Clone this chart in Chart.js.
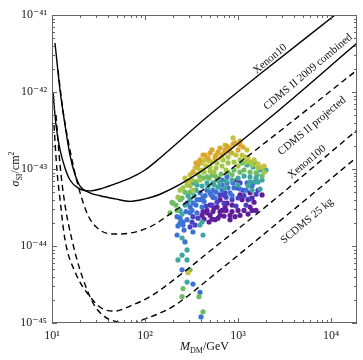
<!DOCTYPE html>
<html><head><meta charset="utf-8">
<script src="https://cdn.jsdelivr.net/npm/chart.js@4"></script>
<style>html,body{margin:0;padding:0;background:#fff}</style>
</head><body><canvas id="c" width="363" height="360" style="width:363px;height:360px;display:block"></canvas>
<script>
// ---- data (mass in GeV, cross-section in units of 1e-44 cm^2) ----
const SIGMA_UNIT = 1e-44;
const xTickValues = [10, 100, 1000, 10000];
const xTickLabels = ['10¹', '10²', '10³', '10⁴'];
const yTickValues = [1e-45, 1e-44, 1e-43, 1e-42, 1e-41];
const yTickLabels = ['10⁻⁴⁵', '10⁻⁴⁴', '10⁻⁴³', '10⁻⁴²', '10⁻⁴¹'];

const xenon10Mass  = [10.25, 11.04, 12.2, 13.8, 15.6, 19.0, 25.6, 32.8, 47.6, 69.0, 100, 145, 464, 1724, 11040];
const xenon10Sigma = [100, 37.3, 17.7, 10.3, 7.2, 5.7, 5.2, 5.5, 6.4, 7.6, 9.7, 13.9, 47.3, 171, 1000];

const cdmsCombMass  = [10.77, 12.2, 13.8, 15.6, 17.7, 20.0, 25.6, 32.8, 47.6, 69.0, 100, 145, 390, 2050, 19040];
const cdmsCombSigma = [433, 106, 37.3, 15.2, 8.4, 6.0, 4.9, 4.5, 4.1, 3.8, 4.1, 4.7, 9.1, 43.3, 433];

const cdmsProjMass  = [11.6, 13.1, 15.6, 19.0, 24.4, 32.8, 47.6, 69.0, 113, 186, 390, 761, 2830, 19040];
const cdmsProjSigma = [193, 58.4, 17.7, 6.2, 2.5, 1.61, 1.43, 1.47, 1.77, 2.6, 5.0, 9.1, 31.2, 193];

const xenon100Mass  = [10.5, 11.3, 12.2, 13.8, 17.7, 25.6, 35.4, 47.6, 69.0, 113, 238, 500, 2210, 19040];
const xenon100Sigma = [37.3, 9.7, 4.0, 1.20, 0.46, 0.22, 0.152, 0.143, 0.166, 0.22, 0.42, 0.86, 3.6, 32.1];

const scdmsMass  = [11.04, 12.2, 13.8, 16.4, 20.0, 27.6, 37.1, 51.3, 69.0, 100, 172, 244, 500, 2210, 19040];
const scdmsSigma = [50.2, 11.3, 3.4, 1.20, 0.49, 0.182, 0.120, 0.103, 0.097, 0.113, 0.148, 0.193, 0.384, 1.66, 14.3];

// scan points, grouped by colour
const goldMass   = [884, 1050, 725, 609, 500, 420, 781, 566, 371, 328, 673, 442, 525, 640, 761, 928, 1000, 1132, 820, 580, 476, 390, 707, 1050, 353];
const goldSigma  = [21.1, 20.5, 17.7, 16.6, 16.1, 15.2, 18.7, 14.3, 11.3, 9.1, 15.2, 15.2, 17.7, 18.7, 19.9, 21.8, 17.7, 19.3, 16.6, 15.2, 13.9, 13.1, 16.1, 23.1, 12.0];
const yellowMass  = [362, 305, 283, 884, 442, 525, 1812, 725, 390, 290, 345, 410, 488, 566, 656, 952, 1104, 1281, 1486, 1641, 1904, 305, 269, 453, 820, 1250];
const yellowSigma = [10.6, 7.2, 6.8, 25.3, 13.1, 12.3, 10.6, 20.5, 9.7, 0.45, 10.3, 12.0, 12.7, 13.1, 13.9, 15.2, 15.2, 13.9, 13.1, 11.6, 10.9, 8.4, 7.6, 10.9, 18.7, 17.7];
const limeMass  = [238, 226, 500, 595, 690, 781, 862, 420, 1189, 1346, 328, 283, 320, 371, 431, 500, 580, 673, 781, 906, 1050, 1219, 1414, 1641, 1904, 390, 552, 743, 1000, 256, 305];
const limeSigma = [5.3, 4.3, 10.6, 12.0, 13.1, 14.3, 16.1, 9.7, 14.3, 12.3, 5.3, 6.2, 7.2, 8.6, 9.1, 9.4, 10.3, 10.9, 12.0, 12.3, 13.1, 12.3, 11.3, 10.3, 9.1, 7.2, 9.1, 9.7, 10.9, 5.7, 6.0];
const greenMass  = [200, 221, 250, 390, 464, 525, 1104, 1050, 186, 195, 256, 250, 380, 420, 1523, 305, 269, 305, 353, 420, 488, 566, 656, 781, 906, 1160, 1346, 1561, 1812, 862, 609, 238, 215];
const greenSigma = [3.6, 2.9, 4.2, 7.9, 7.9, 8.4, 12.0, 9.1, 2.7, 3.7, 0.28, 0.22, 0.22, 0.14, 12.0, 0.49, 5.0, 5.0, 6.8, 7.6, 7.6, 8.1, 8.6, 9.1, 9.7, 9.7, 9.1, 8.9, 8.1, 8.4, 7.6, 4.0, 3.4];
const tealMass  = [1250, 1450, 1724, 2000, 1601, 1346, 1523, 1724, 1414, 595, 538, 464, 609, 1641, 1951, 410, 390, 420, 250, 283, 250, 226, 283, 283, 328, 362, 353, 410, 476, 552, 640, 743, 862, 1000, 1160, 1346, 1561, 1812, 1281, 1000, 725, 290, 336, 305, 269, 238, 250];
const tealSigma = [11.3, 10.6, 9.7, 9.7, 8.4, 6.8, 6.8, 5.5, 5.3, 7.2, 6.6, 6.6, 5.8, 6.8, 9.7, 2.05, 1.87, 1.39, 1.27, 0.89, 0.76, 0.66, 0.66, 0.34, 6.6, 6.2, 5.3, 6.0, 5.8, 6.2, 6.6, 7.0, 7.2, 7.6, 8.1, 7.9, 7.6, 7.2, 6.0, 6.2, 5.7, 4.5, 4.5, 4.0, 3.4, 2.9, 2.6];
const blueMass  = [464, 420, 538, 673, 761, 390, 410, 362, 673, 761, 884, 283, 305, 328, 221, 238, 256, 305, 238, 256, 328, 221, 269, 250, 328, 390, 400, 500, 820, 1250, 1450, 390, 442, 513, 580, 673, 781, 906, 1050, 1219, 1414, 353, 320, 276, 362, 431, 566, 862, 283, 263, 226];
const blueSigma = [5.3, 4.3, 5.3, 7.2, 7.9, 4.0, 3.2, 4.0, 6.2, 6.6, 6.6, 3.6, 3.2, 3.6, 2.4, 2.3, 2.05, 2.7, 1.99, 1.87, 1.52, 1.39, 1.13, 0.49, 0.32, 0.25, 0.12, 4.9, 4.9, 6.6, 6.6, 4.9, 4.5, 4.6, 5.0, 5.3, 5.7, 5.7, 5.5, 5.3, 6.0, 3.4, 2.9, 2.8, 2.7, 3.8, 4.2, 4.5, 2.2, 1.61, 1.82];
const indigoMass  = [725, 595, 538, 690, 975, 1050, 1132, 320, 305, 328, 1641, 640, 743, 862, 1000, 1160, 1346, 1561, 453, 525, 707, 952, 1219, 371, 345];
const indigoSigma = [4.9, 3.7, 4.3, 4.6, 5.7, 6.6, 5.3, 2.05, 1.77, 2.4, 5.3, 4.6, 4.3, 4.0, 4.2, 4.5, 4.1, 4.7, 3.3, 3.4, 3.6, 3.3, 3.4, 2.3, 1.87];
const purpleMass  = [640, 761, 595, 538, 464, 500, 1104, 1346, 1414, 928, 820, 420, 464, 410, 500, 1346, 1281, 1414, 975, 673, 725, 862, 1050, 566, 640, 552, 640, 743, 862, 1000, 1160, 1281, 820, 609, 525, 707, 1050, 1486, 1561, 488, 431, 1812];
const purpleSigma = [4.0, 3.6, 3.2, 2.8, 2.9, 2.5, 4.0, 3.2, 2.9, 2.4, 2.5, 2.8, 2.7, 2.5, 3.4, 4.9, 4.0, 4.2, 7.2, 2.9, 3.2, 3.4, 4.6, 2.2, 2.5, 3.1, 2.8, 2.9, 2.8, 2.9, 2.9, 2.6, 2.2, 2.3, 2.24, 2.45, 2.5, 3.7, 2.9, 2.05, 2.24, 4.6];

// ---- build ----
const pts = (m, s) => m.map((v, i) => ({x: v, y: s[i] * SIGMA_UNIT}));
const lineDs = (m, s, dashed, label) => ({
  label, data: pts(m, s), showLine: true, pointRadius: 0, borderColor: '#000',
  borderWidth: 1.4, borderDash: dashed ? [6, 4] : [], cubicInterpolationMode: 'monotone', order: 0, fill: false
});
const dotDs = (m, s, color) => ({
  data: pts(m, s), pointRadius: 2.6, pointHoverRadius: 2.6, backgroundColor: color, borderWidth: 0, showLine: false, order: 1
});

const SERIF = '"Liberation Serif", "DejaVu Serif", serif';

const curveLabels = [
  {text: 'Xenon10', x: 270, y: 59},
  {text: 'CDMS II 2009 combined', x: 308, y: 72},
  {text: 'CDMS II projected', x: 312, y: 126},
  {text: 'Xenon100', x: 307, y: 162},
  {text: 'SCDMS 25 kg', x: 307, y: 221}
];

const decor = {
  id: 'decor',
  afterDraw(chart) {
    const {ctx, chartArea: a, scales: {x, y}} = chart;
    ctx.save();
    ctx.strokeStyle = '#666'; ctx.lineWidth = 1;
    ctx.strokeRect(a.left + 0.5, a.top + 0.5, a.right - a.left - 1, a.bottom - a.top - 1);
    ctx.beginPath();
    for (let d = 1; d <= 4; d++) for (let k = 1; k <= 9; k++) {
      const v = k * Math.pow(10, d);
      if (v < x.min || v > x.max) continue;
      const p = Math.round(x.getPixelForValue(v)) + 0.5, L = k === 1 ? 5 : 3;
      ctx.moveTo(p, a.bottom); ctx.lineTo(p, a.bottom - L);
      ctx.moveTo(p, a.top); ctx.lineTo(p, a.top + L);
    }
    for (let d = -45; d <= -41; d++) for (let k = 1; k <= 9; k++) {
      const v = k * Math.pow(10, d);
      if (v < y.min * 0.999 || v > y.max * 1.001) continue;
      const p = Math.round(y.getPixelForValue(v)) + 0.5, L = k === 1 ? 5 : 3;
      ctx.moveTo(a.left, p); ctx.lineTo(a.left + L, p);
      ctx.moveTo(a.right, p); ctx.lineTo(a.right - L, p);
    }
    ctx.stroke();
    ctx.fillStyle = '#111'; ctx.font = '11px ' + SERIF;
    ctx.textAlign = 'center'; ctx.textBaseline = 'middle';
    curveLabels.forEach(l => {
      ctx.save(); ctx.translate(l.x, l.y); ctx.rotate(-40 * Math.PI / 180);
      ctx.fillText(l.text, 0, 0); ctx.restore();
    });
    const drawSub = (parts, cx, cy, rot) => {
      ctx.save(); ctx.translate(cx, cy); ctx.rotate(rot);
      let w = 0;
      parts.forEach(p => { ctx.font = p.f; w += ctx.measureText(p.t).width; });
      let xx = -w / 2;
      ctx.textAlign = 'left'; ctx.textBaseline = 'alphabetic';
      parts.forEach(p => { ctx.font = p.f; ctx.fillText(p.t, xx, 4 + (p.dy || 0)); xx += ctx.measureText(p.t).width; });
      ctx.restore();
    };
    drawSub([
      {t: 'σ', f: 'italic 12px ' + SERIF},
      {t: 'SI', f: '8px ' + SERIF, dy: 3},
      {t: '/cm', f: '12px ' + SERIF},
      {t: '2', f: '8px ' + SERIF, dy: -5}
    ], 15, (a.top + a.bottom) / 2, -Math.PI / 2);
    drawSub([
      {t: 'M', f: 'italic 12px ' + SERIF},
      {t: 'DM', f: '8px ' + SERIF, dy: 3},
      {t: '/GeV', f: '12px ' + SERIF}
    ], (a.left + a.right) / 2, 346, 0);
    ctx.restore();
  }
};

new Chart(document.getElementById('c'), {
  type: 'scatter',
  data: {
    datasets: [
      lineDs(xenon10Mass, xenon10Sigma, false, 'Xenon10'),
      lineDs(cdmsCombMass, cdmsCombSigma, false, 'CDMS II 2009 combined'),
      lineDs(cdmsProjMass, cdmsProjSigma, true, 'CDMS II projected'),
      lineDs(xenon100Mass, xenon100Sigma, true, 'Xenon100'),
      lineDs(scdmsMass, scdmsSigma, true, 'SCDMS 25 kg'),
      dotDs(goldMass, goldSigma, '#d9a62e'),
      dotDs(yellowMass, yellowSigma, '#c5c23c'),
      dotDs(limeMass, limeSigma, '#a2c64c'),
      dotDs(greenMass, greenSigma, '#6fbd62'),
      dotDs(tealMass, tealSigma, '#3fa6a2'),
      dotDs(blueMass, blueSigma, '#3c72d6'),
      dotDs(indigoMass, indigoSigma, '#4a40c6'),
      dotDs(purpleMass, purpleSigma, '#5e1e9c')
    ]
  },
  options: {
    responsive: false, animation: false, devicePixelRatio: 1,
    layout: {padding: {left: 0, top: 15, right: 6, bottom: 0}},
    plugins: {legend: {display: false}, tooltip: {enabled: false}},
    scales: {
      x: {
        type: 'logarithmic', min: 10, max: 19000,
        grid: {display: false, drawTicks: false}, border: {display: false},
        afterBuildTicks: s => { s.ticks = xTickValues.map(v => ({value: v})); },
        ticks: {
          callback: v => xTickLabels[xTickValues.indexOf(v)] ?? '',
          font: {family: SERIF, size: 12}, color: '#222', padding: 6, maxRotation: 0, autoSkip: false
        },
        afterFit: s => { s.height = 37; }
      },
      y: {
        type: 'logarithmic', min: 1e-45, max: 1e-41,
        grid: {display: false, drawTicks: false}, border: {display: false},
        afterBuildTicks: s => { s.ticks = yTickValues.map(v => ({value: v})); },
        ticks: {
          callback: v => { const i = yTickValues.findIndex(t => Math.abs(t - v) / t < 1e-6); return i >= 0 ? yTickLabels[i] : ''; },
          font: {family: SERIF, size: 12}, color: '#222', padding: 5, autoSkip: false
        },
        afterFit: s => { s.width = 52; }
      }
    }
  },
  plugins: [decor]
});
</script>
</body></html>
